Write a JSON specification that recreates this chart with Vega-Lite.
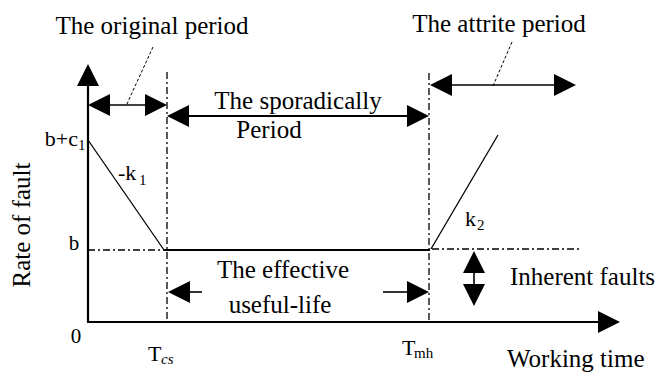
{
  "$schema": "https://vega.github.io/schema/vega-lite/v6.json",
  "width": 660,
  "height": 373,
  "autosize": {"type": "fit", "contains": "padding"},
  "padding": 0,
  "background": "white",
  "config": {"view": {"stroke": null}},
  "datasets": {
    "lines": [
      {"kind": "axis", "x": 88, "y": 322, "x2": 88, "y2": 84},
      {"kind": "axis", "x": 87, "y": 322, "x2": 600, "y2": 322},
      {"kind": "curve", "x": 88, "y": 140, "x2": 164, "y2": 250},
      {"kind": "flat", "x": 164, "y": 250, "x2": 430, "y2": 250},
      {"kind": "curve", "x": 431, "y": 249, "x2": 498, "y2": 135},
      {"kind": "dashdot", "x": 88, "y": 250, "x2": 164, "y2": 250},
      {"kind": "dashdot", "x": 432, "y": 249, "x2": 580, "y2": 249},
      {"kind": "dashdot", "x": 167, "y": 72, "x2": 167, "y2": 322},
      {"kind": "dashdot", "x": 429, "y": 73, "x2": 429, "y2": 322},
      {"kind": "span", "x": 100, "y": 105, "x2": 160, "y2": 105},
      {"kind": "spanthick", "x": 185, "y": 116, "x2": 415, "y2": 116},
      {"kind": "span", "x": 440, "y": 85, "x2": 565, "y2": 85},
      {"kind": "span", "x": 180, "y": 292, "x2": 202, "y2": 292},
      {"kind": "span", "x": 383, "y": 292, "x2": 415, "y2": 292},
      {"kind": "span", "x": 474, "y": 262, "x2": 474, "y2": 296},
      {"kind": "leader", "x": 153, "y": 47, "x2": 126, "y2": 106},
      {"kind": "leader", "x": 512, "y": 42, "x2": 493, "y2": 86}
    ],
    "heads": [
      {"dir": "up", "x": 88, "y": 64},
      {"dir": "right", "x": 620, "y": 322},
      {"dir": "left", "x": 88, "y": 105},
      {"dir": "right", "x": 167, "y": 105},
      {"dir": "left", "x": 167, "y": 116},
      {"dir": "right", "x": 429, "y": 116},
      {"dir": "left", "x": 430, "y": 85},
      {"dir": "right", "x": 576, "y": 85},
      {"dir": "left", "x": 168, "y": 292},
      {"dir": "right", "x": 429, "y": 292},
      {"dir": "up", "x": 474, "y": 251},
      {"dir": "down", "x": 474, "y": 306}
    ],
    "titles": [
      {"label": "The original period", "x": 152, "y": 34},
      {"label": "The attrite period", "x": 499, "y": 32},
      {"label": "The sporadically", "x": 298, "y": 109},
      {"label": "Period", "x": 269, "y": 138},
      {"label": "The effective", "x": 283, "y": 278},
      {"label": "useful-life", "x": 280, "y": 313}
    ],
    "leftTexts": [
      {"label": "Inherent faults", "x": 510, "y": 285},
      {"label": "Working time", "x": 507, "y": 367}
    ],
    "marks": [
      {"label": "0", "x": 76, "y": 343, "align": "center"},
      {"label": "b", "x": 74, "y": 250, "align": "center"},
      {"label": "b+c", "x": 78, "y": 146, "align": "right"},
      {"label": "-k", "x": 118, "y": 180, "align": "left"},
      {"label": "k", "x": 465, "y": 226, "align": "left"},
      {"label": "T", "x": 148, "y": 361, "align": "left"},
      {"label": "T", "x": 402, "y": 355, "align": "left"}
    ],
    "subs": [
      {"label": "1", "x": 78, "y": 150},
      {"label": "1", "x": 139, "y": 185},
      {"label": "2", "x": 477, "y": 230},
      {"label": "mh", "x": 414, "y": 358}
    ],
    "italicSubs": [
      {"label": "cs", "x": 161, "y": 364}
    ],
    "yTitle": [
      {"label": "Rate of fault", "x": 22, "y": 225}
    ]
  },
  "encoding": {
    "x": {"field": "x", "type": "quantitative", "scale": {"domain": [0, 660], "nice": false, "zero": false}, "axis": null},
    "y": {"field": "y", "type": "quantitative", "scale": {"domain": [0, 373], "nice": false, "zero": false, "reverse": true}, "axis": null}
  },
  "layer": [
    {
      "data": {"name": "lines"},
      "transform": [{"filter": "datum.kind == 'axis'"}],
      "mark": {"type": "rule", "color": "black", "strokeWidth": 2.2},
      "encoding": {"x2": {"field": "x2"}, "y2": {"field": "y2"}}
    },
    {
      "data": {"name": "lines"},
      "transform": [{"filter": "datum.kind == 'curve'"}],
      "mark": {"type": "rule", "color": "black", "strokeWidth": 1.3},
      "encoding": {"x2": {"field": "x2"}, "y2": {"field": "y2"}}
    },
    {
      "data": {"name": "lines"},
      "transform": [{"filter": "datum.kind == 'flat' || datum.kind == 'spanthick'"}],
      "mark": {"type": "rule", "color": "black", "strokeWidth": 2},
      "encoding": {"x2": {"field": "x2"}, "y2": {"field": "y2"}}
    },
    {
      "data": {"name": "lines"},
      "transform": [{"filter": "datum.kind == 'span'"}],
      "mark": {"type": "rule", "color": "black", "strokeWidth": 1.6},
      "encoding": {"x2": {"field": "x2"}, "y2": {"field": "y2"}}
    },
    {
      "data": {"name": "lines"},
      "transform": [{"filter": "datum.kind == 'dashdot'"}],
      "mark": {"type": "rule", "color": "black", "strokeWidth": 1.3, "strokeDash": [7, 3, 2, 3]},
      "encoding": {"x2": {"field": "x2"}, "y2": {"field": "y2"}}
    },
    {
      "data": {"name": "lines"},
      "transform": [{"filter": "datum.kind == 'leader'"}],
      "mark": {"type": "rule", "color": "black", "strokeWidth": 1, "strokeDash": [3, 2]},
      "encoding": {"x2": {"field": "x2"}, "y2": {"field": "y2"}}
    },
    {
      "data": {"name": "heads"},
      "mark": {"type": "point", "filled": true, "color": "black", "opacity": 1, "size": 484, "strokeWidth": 0},
      "encoding": {
        "shape": {
          "field": "dir",
          "type": "nominal",
          "scale": {
            "domain": ["right", "left", "up", "down"],
            "range": ["M0,0L-2,-1L-2,1Z", "M0,0L2,-1L2,1Z", "M0,0L-1,2L1,2Z", "M0,0L-1,-2L1,-2Z"]
          },
          "legend": null
        }
      }
    },
    {
      "data": {"name": "titles"},
      "mark": {"type": "text", "font": "Liberation Serif", "fontSize": 25, "align": "center", "baseline": "alphabetic", "color": "black"},
      "encoding": {"text": {"field": "label"}}
    },
    {
      "data": {"name": "leftTexts"},
      "mark": {"type": "text", "font": "Liberation Serif", "fontSize": 25, "align": "left", "baseline": "alphabetic", "color": "black"},
      "encoding": {"text": {"field": "label"}}
    },
    {
      "data": {"name": "marks"},
      "transform": [{"filter": "datum.align == 'center'"}],
      "mark": {"type": "text", "font": "Liberation Serif", "fontSize": 21, "align": "center", "baseline": "alphabetic", "color": "black"},
      "encoding": {"text": {"field": "label"}}
    },
    {
      "data": {"name": "marks"},
      "transform": [{"filter": "datum.align == 'right'"}],
      "mark": {"type": "text", "font": "Liberation Serif", "fontSize": 22, "align": "right", "baseline": "alphabetic", "color": "black"},
      "encoding": {"text": {"field": "label"}}
    },
    {
      "data": {"name": "marks"},
      "transform": [{"filter": "datum.align == 'left'"}],
      "mark": {"type": "text", "font": "Liberation Serif", "fontSize": 22, "align": "left", "baseline": "alphabetic", "color": "black"},
      "encoding": {"text": {"field": "label"}}
    },
    {
      "data": {"name": "subs"},
      "mark": {"type": "text", "font": "Liberation Serif", "fontSize": 15, "align": "left", "baseline": "alphabetic", "color": "black"},
      "encoding": {"text": {"field": "label"}}
    },
    {
      "data": {"name": "italicSubs"},
      "mark": {"type": "text", "font": "Liberation Serif", "fontSize": 15, "fontStyle": "italic", "align": "left", "baseline": "alphabetic", "color": "black"},
      "encoding": {"text": {"field": "label"}}
    },
    {
      "data": {"name": "yTitle"},
      "mark": {"type": "text", "font": "Liberation Serif", "fontSize": 25, "angle": 270, "align": "center", "baseline": "middle", "color": "black"},
      "encoding": {"text": {"field": "label"}}
    }
  ]
}
